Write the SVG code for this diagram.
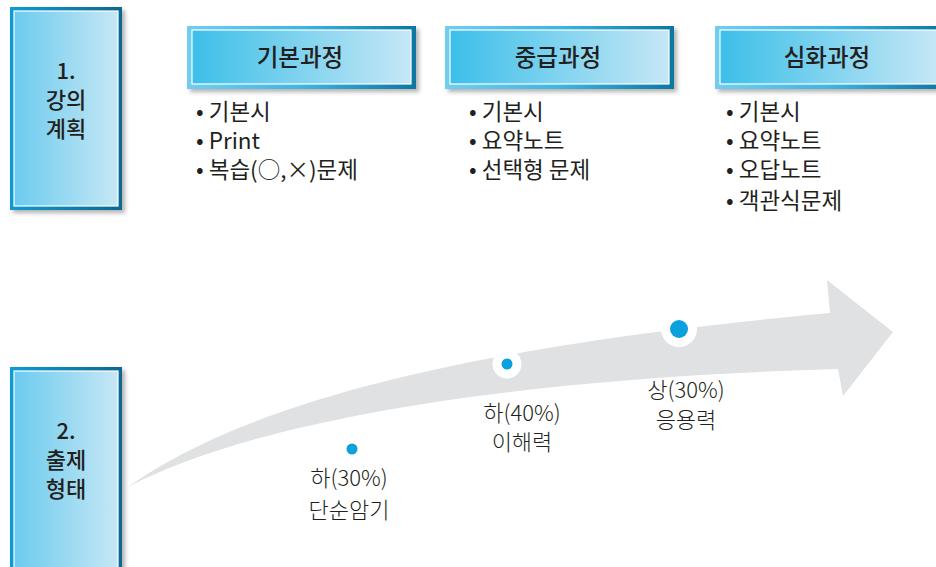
<svg xmlns="http://www.w3.org/2000/svg" width="936" height="567" viewBox="0 0 936 567">
<defs>
<linearGradient id="sideBorder" x1="0" y1="0" x2="1" y2="0"><stop offset="0" stop-color="#0a9bd5"/><stop offset="1" stop-color="#0b6890"/></linearGradient>
<linearGradient id="sideFill" x1="0" y1="0" x2="1" y2="0"><stop offset="0" stop-color="#6ccbee"/><stop offset="1" stop-color="#c6e7f5"/></linearGradient>
<linearGradient id="headBorder" x1="0" y1="0" x2="1" y2="0"><stop offset="0" stop-color="#72cdf0"/><stop offset="0.5" stop-color="#3fb5e0"/><stop offset="1" stop-color="#0a77a2"/></linearGradient>
<linearGradient id="headFill" x1="0" y1="0" x2="1" y2="0"><stop offset="0" stop-color="#3cbfe9"/><stop offset="1" stop-color="#c6e7f5"/></linearGradient>
<filter id="shadow" x="-10%" y="-10%" width="130%" height="130%"><feDropShadow dx="3" dy="3" stdDeviation="2" flood-color="#000" flood-opacity="0.3"/></filter>
</defs>
<style>
.t{font-family:"Noto Sans CJK KR","Noto Sans",sans-serif;fill:#231f20}
.side{font-size:22px;text-anchor:middle;font-weight:500}
.head{font-size:23.5px;text-anchor:middle;font-weight:500}
.bul{font-size:22.5px;font-weight:400}
.lab{font-size:22px;text-anchor:middle;font-weight:300}
.dot{fill:#0aa0dd}
</style>
<g id="side1">
<g filter="url(#shadow)"><rect x="10" y="7" width="112" height="203" fill="url(#sideBorder)"/></g>
<rect x="14" y="11" width="104" height="195" fill="url(#sideFill)" stroke="#ffffff" stroke-width="1.2"/>
<text class="t side" x="66" y="79">1.</text>
<text class="t side" x="66" y="108">강의</text>
<text class="t side" x="66" y="137">계획</text>
</g>
<g id="side2">
<g filter="url(#shadow)"><rect x="10" y="367" width="112" height="210" fill="url(#sideBorder)"/></g>
<rect x="14" y="371" width="104" height="210" fill="url(#sideFill)" stroke="#ffffff" stroke-width="1.2"/>
<text class="t side" x="66" y="439">2.</text>
<text class="t side" x="66" y="468">출제</text>
<text class="t side" x="66" y="497">형태</text>
</g>
<g id="basic">
<g filter="url(#shadow)"><rect x="187" y="26" width="229" height="63" fill="url(#headBorder)"/></g>
<rect x="192" y="30" width="219" height="54" fill="url(#headFill)" stroke="#ffffff" stroke-width="1.2"/>
<text class="t head" x="300" y="66">기본과정</text>
<text class="t bul" x="196" y="120">• 기본시</text>
<text class="t bul" x="196" y="149">• Print</text>
<text class="t bul" x="196" y="178">• 복습(○,×)문제</text>
</g>
<g id="mid">
<g filter="url(#shadow)"><rect x="445" y="26" width="229" height="63" fill="url(#headBorder)"/></g>
<rect x="450" y="30" width="219" height="54" fill="url(#headFill)" stroke="#ffffff" stroke-width="1.2"/>
<text class="t head" x="558" y="66">중급과정</text>
<text class="t bul" x="469" y="120">• 기본시</text>
<text class="t bul" x="469" y="149">• 요약노트</text>
<text class="t bul" x="469" y="178">• 선택형 문제</text>
</g>
<g id="adv">
<g filter="url(#shadow)"><rect x="715" y="26" width="229" height="63" fill="url(#headBorder)"/></g>
<rect x="720" y="30" width="219" height="54" fill="url(#headFill)" stroke="#ffffff" stroke-width="1.2"/>
<text class="t head" x="827" y="66">심화과정</text>
<text class="t bul" x="726" y="120">• 기본시</text>
<text class="t bul" x="726" y="149">• 요약노트</text>
<text class="t bul" x="726" y="178">• 오답노트</text>
<text class="t bul" x="726" y="209">• 객관식문제</text>
</g>
<g id="arrow">
<path d="M128,487 C 230,415 420,350 830,313 L827,280 L893,332 L843,396 L838,369 C 520,378 260,418 128,487 Z" fill="#dfe1e2"/>
</g>
<g id="level1">
<circle class="dot" cx="352" cy="449" r="5.5"/>
<text class="t lab" x="349" y="486">하(30%)</text>
<text class="t lab" x="349" y="518">단순암기</text>
</g>
<g id="level2">
<circle cx="507" cy="364" r="14.5" fill="#ffffff"/>
<circle class="dot" cx="507" cy="364" r="5.5"/>
<text class="t lab" x="522" y="421">하(40%)</text>
<text class="t lab" x="522" y="450">이해력</text>
</g>
<g id="level3">
<circle cx="679" cy="329" r="18" fill="#ffffff"/>
<circle class="dot" cx="679" cy="329" r="9"/>
<text class="t lab" x="686" y="398">상(30%)</text>
<text class="t lab" x="686" y="428">응용력</text>
</g>
</svg>
